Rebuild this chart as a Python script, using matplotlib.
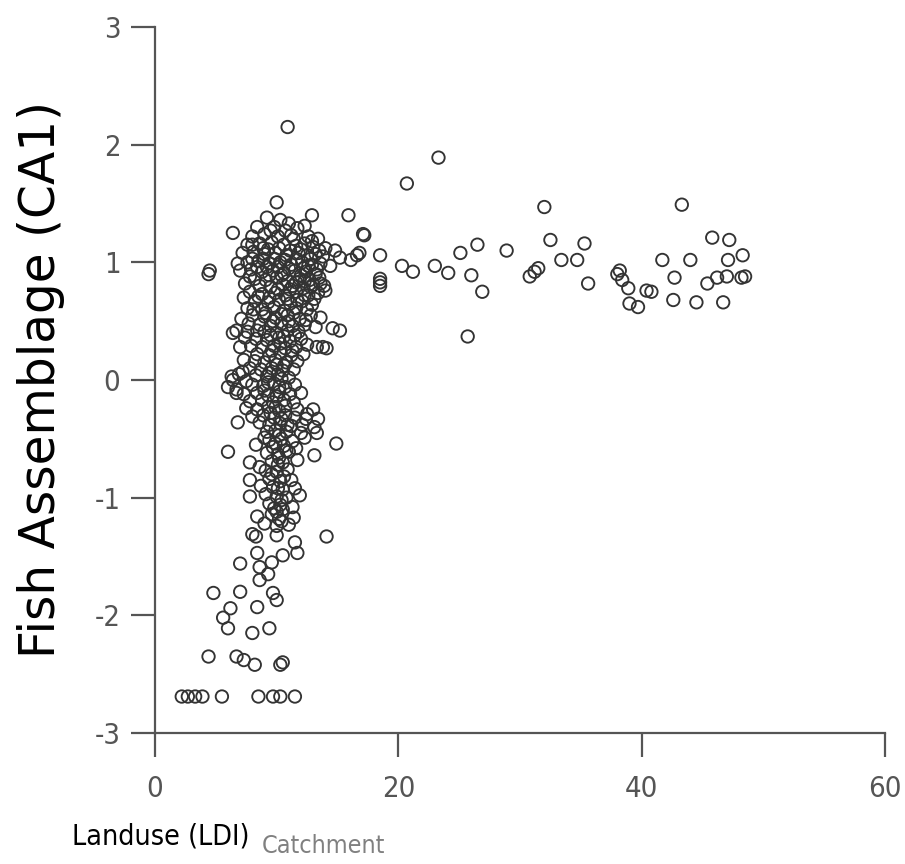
import matplotlib
matplotlib.use("Agg")
import matplotlib.pyplot as plt
import numpy as np

# ---- data: (LDI catchment, CA1) ----
outliers_top = [(10.9, 2.15), (10.0, 1.51), (12.9, 1.40), (15.9, 1.40), (6.4, 1.25),
                (17.1, 1.24), (4.5, 0.93), (4.4, 0.90), (6.8, 0.99)]

band_high = [(9.2, 1.38), (10.3, 1.36), (11.0, 1.33), (8.4, 1.30), (9.8, 1.30), (11.7, 1.29),
             (12.3, 1.31), (8.0, 1.22), (9.0, 1.24), (10.1, 1.22), (11.2, 1.23), (12.6, 1.22),
             (13.4, 1.20), (7.6, 1.15), (8.6, 1.16), (9.6, 1.17), (10.6, 1.15), (11.6, 1.14),
             (12.3, 1.16), (13.0, 1.13), (14.0, 1.12), (14.8, 1.10),
             (7.2, 1.08), (8.1, 1.09), (9.0, 1.07), (9.9, 1.08), (10.8, 1.06), (11.8, 1.08),
             (12.5, 1.06), (13.2, 1.07), (13.8, 1.05), (15.2, 1.04), (16.1, 1.02), (7.6, 1.00),
             (8.5, 1.01), (9.4, 0.99), (10.3, 1.00), (11.2, 0.98), (12.1, 1.00), (12.9, 0.98),
             (13.6, 0.99), (14.4, 0.97), (16.6, 1.06)]

band_mid_high = [(7.0, 0.93), (7.9, 0.94), (8.8, 0.92), (9.7, 0.93), (10.6, 0.91), (11.5, 0.93),
                 (12.4, 0.92), (13.2, 0.90), (8.2, 0.86), (9.1, 0.85), (10.0, 0.87), (10.9, 0.84),
                 (11.9, 0.86), (12.7, 0.85), (13.5, 0.87), (7.4, 0.82), (8.6, 0.80), (9.5, 0.79),
                 (11.3, 0.80), (12.2, 0.78), (13.0, 0.81), (13.9, 0.80),
                 (7.8, 0.75), (8.8, 0.73), (9.9, 0.74), (10.7, 0.72), (11.6, 0.75), (12.6, 0.72),
                 (13.4, 0.74), (14.0, 0.76), (8.2, 0.67), (9.3, 0.66), (10.2, 0.68), (11.1, 0.65),
                 (12.1, 0.67), (12.9, 0.64), (7.6, 0.61), (8.8, 0.60), (9.8, 0.62), (10.6, 0.59),
                 (11.6, 0.61), (12.5, 0.60)]

band_mid = [(8.0, 0.55), (9.0, 0.54), (9.9, 0.53), (10.9, 0.55), (11.9, 0.52), (12.8, 0.55),
            (13.6, 0.53), (7.7, 0.48), (8.6, 0.47), (9.5, 0.46), (10.4, 0.48), (11.3, 0.46),
            (12.3, 0.47), (13.2, 0.45), (6.7, 0.42), (7.6, 0.41), (6.4, 0.40), (9.0, 0.41),
            (10.0, 0.40), (10.9, 0.42), (11.8, 0.41), (14.6, 0.44), (15.2, 0.42),
            (7.4, 0.36), (8.3, 0.35), (9.2, 0.34), (10.2, 0.36), (11.1, 0.33), (12.0, 0.35),
            (7.9, 0.29), (8.8, 0.28), (9.8, 0.29), (10.7, 0.27), (11.6, 0.28), (12.5, 0.30),
            (13.3, 0.28), (13.8, 0.28), (14.1, 0.27), (8.4, 0.22), (9.4, 0.21), (10.3, 0.23),
            (11.2, 0.21), (12.2, 0.22),
            (7.3, 0.17), (8.2, 0.16), (9.0, 0.15), (9.9, 0.17), (10.8, 0.15), (11.7, 0.16),
            (7.8, 0.10), (8.7, 0.09), (9.6, 0.10), (10.5, 0.08), (11.4, 0.09), (6.9, 0.05),
            (8.3, 0.04), (9.2, 0.03), (10.1, 0.05), (11.0, 0.02), (6.3, 0.03), (6.4, 0.00),
            (7.5, -0.01)]

band_mid_low = [(6.0, -0.06), (6.7, -0.08), (8.0, -0.04), (8.9, -0.05), (9.8, -0.03), (10.7, -0.06),
                (11.5, -0.04), (7.3, -0.12), (8.4, -0.11), (9.3, -0.13), (10.2, -0.10), (11.1, -0.12),
                (12.0, -0.11), (6.7, -0.11), (7.8, -0.18), (8.8, -0.17), (9.7, -0.19), (10.6, -0.17),
                (11.4, -0.19),
                (7.5, -0.24), (8.4, -0.25), (9.3, -0.23), (10.2, -0.26), (11.7, -0.25), (13.0, -0.25),
                (12.5, -0.29), (8.0, -0.31), (8.9, -0.30), (9.8, -0.32), (10.7, -0.30), (11.5, -0.32),
                (12.4, -0.33), (13.4, -0.33), (6.8, -0.36), (8.6, -0.36), (9.4, -0.38), (10.3, -0.37),
                (11.2, -0.39), (12.1, -0.38), (13.1, -0.40), (13.3, -0.45), (9.9, -0.43), (10.8, -0.44),
                (12.0, -0.45)]

band_low = [(9.0, -0.49), (9.4, -0.51), (10.4, -0.50), (11.3, -0.52), (12.3, -0.49), (14.9, -0.54),
            (8.3, -0.55), (9.7, -0.57), (10.6, -0.56), (11.6, -0.58), (6.0, -0.61), (9.2, -0.62),
            (10.1, -0.63), (11.0, -0.61), (13.1, -0.64), (7.8, -0.70), (9.6, -0.69), (10.5, -0.70),
            (11.7, -0.68), (8.6, -0.74),
            (9.1, -0.77), (10.0, -0.78), (10.9, -0.76), (7.8, -0.85), (9.4, -0.84), (10.3, -0.86),
            (11.2, -0.85), (8.7, -0.90), (9.7, -0.91), (10.5, -0.93), (11.5, -0.92), (7.8, -0.99),
            (9.1, -0.97), (10.0, -0.99), (10.8, -1.00), (11.9, -0.98),
            (9.4, -1.05), (10.3, -1.06), (11.3, -1.08), (10.5, -1.10), (8.4, -1.16), (9.6, -1.14),
            (10.2, -1.18), (11.4, -1.17), (9.0, -1.22), (10.0, -1.24), (11.0, -1.23), (8.0, -1.31),
            (8.3, -1.33), (10.0, -1.32), (11.5, -1.38), (14.1, -1.33)]

core_dense = [(9.5, 1.27), (10.7, 1.27), (11.4, 1.20), (9.3, 1.11), (10.2, 1.12), (11.1, 1.10),
              (12.0, 1.11), (12.8, 1.03), (11.6, 1.03), (10.7, 1.02), (9.8, 1.03), (8.9, 1.03),
              (8.0, 1.03), (12.2, 0.95), (11.0, 0.95), (10.1, 0.96), (9.2, 0.96), (8.4, 0.96),
              (12.0, 0.89), (10.4, 0.89), (9.4, 0.89), (11.6, 0.83), (10.5, 0.81), (10.1, 0.77),
              (11.1, 0.77), (12.3, 0.72), (9.4, 0.70), (10.9, 0.69), (11.7, 0.68), (9.1, 0.57),
              (10.4, 0.56), (11.4, 0.57), (9.7, 0.50), (11.0, 0.50), (12.4, 0.51), (9.5, 0.38),
              (10.6, 0.37), (11.5, 0.38), (10.3, 0.31), (11.3, 0.25), (9.6, 0.25), (10.0, 0.13),
              (10.6, 0.12), (9.4, 0.06), (10.4, 0.01), (9.3, -0.02), (10.2, -0.06), (9.0, -0.09),
              (10.0, -0.14), (9.9, -0.23), (10.7, -0.22), (9.5, -0.28), (10.4, -0.33), (10.9, -0.38),
              (9.2, -0.44), (10.2, -0.47), (9.9, -0.54), (10.8, -0.60), (10.2, -0.66), (10.1, -0.72),
              (9.6, -0.80), (10.6, -0.82), (10.1, -0.92), (10.4, -1.02), (9.8, -1.09), (10.0, -1.12),
              (10.4, -1.20),
              (12.9, 1.18), (13.5, 1.10), (12.6, 0.97), (13.3, 0.94), (12.8, 0.79), (13.6, 0.82),
              (13.1, 0.69), (12.3, 0.84), (8.0, 1.15), (8.9, 1.12), (7.8, 0.88), (8.5, 0.71),
              (7.3, 0.70), (8.1, 0.60), (7.1, 0.52), (8.4, 0.42), (7.0, 0.28), (7.2, 0.07)]

tail = [(8.4, -1.47), (10.5, -1.49), (11.7, -1.47), (7.0, -1.56), (8.6, -1.59), (9.6, -1.55),
        (8.6, -1.70), (9.3, -1.65), (4.8, -1.81), (7.0, -1.80), (9.7, -1.81), (8.4, -1.93),
        (10.0, -1.87), (6.2, -1.94), (5.6, -2.02), (6.0, -2.11), (8.0, -2.15), (9.4, -2.11),
        (4.4, -2.35), (6.7, -2.35), (7.3, -2.38), (8.2, -2.42), (10.5, -2.40), (10.3, -2.42),
        (2.2, -2.69), (2.7, -2.69), (3.3, -2.69), (3.9, -2.69), (5.5, -2.69), (8.5, -2.69),
        (9.7, -2.69), (10.3, -2.69), (11.5, -2.69)]

high_ldi = [(23.3, 1.89), (20.7, 1.67), (32.0, 1.47), (17.2, 1.23), (16.8, 1.08), (18.5, 1.06),
            (18.5, 0.83), (18.5, 0.86), (18.5, 0.80), (20.3, 0.97), (21.2, 0.92), (23.0, 0.97),
            (24.1, 0.91), (25.1, 1.08), (26.5, 1.15), (26.0, 0.89), (26.9, 0.75), (28.9, 1.10),
            (25.7, 0.37), (32.5, 1.19), (31.2, 0.92), (30.8, 0.88), (33.4, 1.02), (34.7, 1.02),
            (35.3, 1.16), (35.6, 0.82), (43.3, 1.49), (45.8, 1.21), (47.2, 1.19), (48.3, 1.06),
            (47.1, 1.02), (41.7, 1.02), (44.0, 1.02), (42.7, 0.87), (38.2, 0.93), (38.4, 0.85),
            (38.9, 0.78), (39.0, 0.65), (39.7, 0.62), (40.8, 0.75), (40.4, 0.76), (42.6, 0.68),
            (44.5, 0.66), (45.4, 0.82), (46.2, 0.87), (47.0, 0.88), (48.2, 0.87), (48.5, 0.88),
            (46.7, 0.66), (38.0, 0.90), (31.5, 0.95)]

x_ticks = [0, 20, 40, 60]
y_ticks = [-3, -2, -1, 0, 1, 2, 3]

groups = [outliers_top, band_high, band_mid_high, band_mid, band_mid_low, band_low,
          core_dense, tail, high_ldi]
pts = np.array([p for g in groups for p in g])

fig = plt.figure(figsize=(9.05, 8.64), dpi=100)
ax = fig.add_axes([155 / 905, 131 / 864, 730 / 905, 706 / 864])

ax.scatter(pts[:, 0], pts[:, 1], s=80, facecolors="none", edgecolors="#333333",
           linewidths=1.35, zorder=3)

ax.set_xlim(0, 60)
ax.set_ylim(-3, 3)
ax.set_xticks(x_ticks)
ax.set_yticks(y_ticks)
ax.set_xticklabels([str(v) for v in x_ticks])
ax.set_yticklabels([str(v) for v in y_ticks])

for side in ("top", "right"):
    ax.spines[side].set_visible(False)
for side in ("left", "bottom"):
    ax.spines[side].set_color("#555555")
    ax.spines[side].set_linewidth(1.6)

ax.tick_params(axis="x", direction="out", length=17, width=1.6, color="#555555",
               pad=13, labelsize=21, labelcolor="#555555")
ax.tick_params(axis="y", direction="out", length=17, width=1.6, color="#555555",
               pad=8, labelsize=21, labelcolor="#555555")
for lab in ax.get_xticklabels() + ax.get_yticklabels():
    lab.set_fontstretch("condensed")

fig.text(41 / 905, 1 - 380 / 864, "Fish Assemblage (CA1)", rotation=90,
         ha="center", va="center", fontsize=35, color="black")
fig.text(72 / 905, 1 - 836 / 864, "Landuse (LDI)", ha="left", va="center",
         fontsize=20.5, fontstretch="condensed", color="black")
fig.text(262 / 905, 1 - 846 / 864, "Catchment", ha="left", va="center",
         fontsize=18, fontstretch="condensed", color="#808080")

fig.savefig("out.png", dpi=100)
